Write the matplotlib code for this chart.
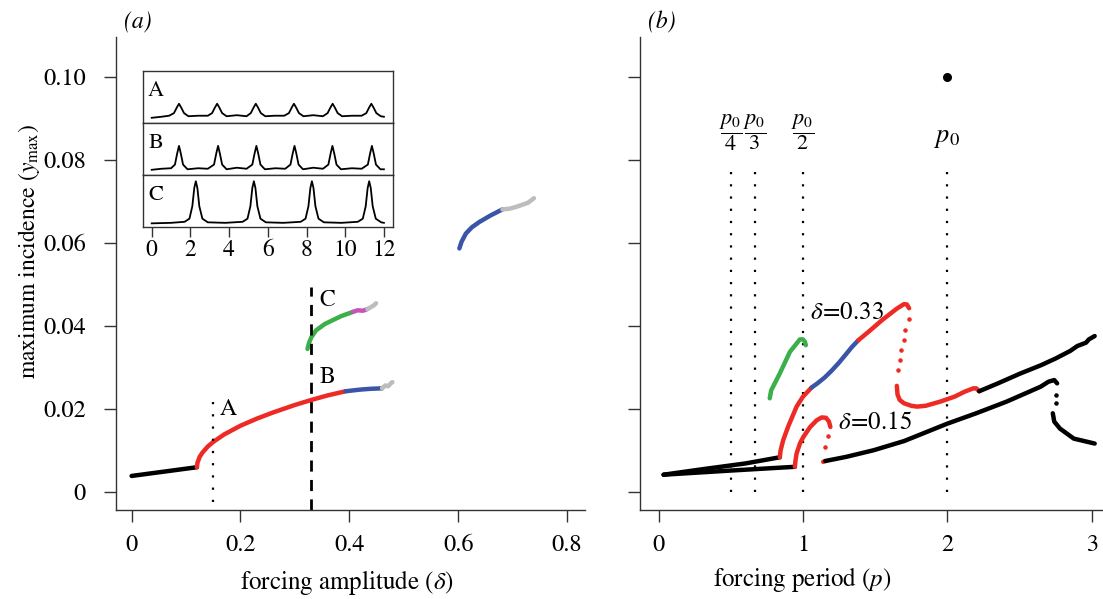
import matplotlib
matplotlib.use('Agg')
import matplotlib.pyplot as plt

plt.rcParams['font.family'] = ['STIXGeneral', 'DejaVu Serif']
plt.rcParams['mathtext.fontset'] = 'stix'

RED = '#ee2a24'
BLUE = '#3a55a8'
GREEN = '#3bb04a'
MAGENTA = '#c155b8'
GREY = '#bdbdbd'

# ---- panel (a): max incidence against forcing amplitude ----
a_black_x = [0.0, 0.04, 0.08, 0.12]
a_black_y = [0.0039, 0.0046, 0.0053, 0.0060]
a_red_x = [0.12, 0.121, 0.125, 0.13, 0.14, 0.15, 0.17, 0.20, 0.23, 0.26, 0.30, 0.33, 0.36, 0.393]
a_red_y = [0.0060, 0.0071, 0.0085, 0.0095, 0.0110, 0.0121, 0.0139, 0.0160, 0.0177, 0.0192,
           0.0210, 0.0222, 0.0233, 0.0243]
a_blue_x = [0.393, 0.42, 0.44, 0.46]
a_blue_y = [0.0243, 0.0247, 0.0249, 0.0250]
a_grey_x = [0.46, 0.466, 0.471, 0.476, 0.479]
a_grey_y = [0.0250, 0.0257, 0.0255, 0.0262, 0.0265]
a_green_x = [0.323, 0.326, 0.33, 0.339, 0.355, 0.369, 0.385, 0.406]
a_green_y = [0.0345, 0.0360, 0.0373, 0.0390, 0.0405, 0.0414, 0.0424, 0.0434]
a_mag_x = [0.406, 0.415, 0.425, 0.433]
a_mag_y = [0.0434, 0.0438, 0.0437, 0.0441]
a_grey2_x = [0.433, 0.44, 0.445, 0.449]
a_grey2_y = [0.0441, 0.0446, 0.0450, 0.0455]
a_blue2_x = [0.602, 0.606, 0.614, 0.625, 0.639, 0.66, 0.681]
a_blue2_y = [0.0587, 0.0603, 0.0623, 0.0638, 0.0651, 0.0667, 0.0681]
a_grey3_x = [0.681, 0.695, 0.706, 0.717, 0.728, 0.739]
a_grey3_y = [0.0681, 0.0683, 0.0687, 0.0692, 0.0697, 0.0708]

# ---- panel (b): max incidence against forcing period ----
b33_black_x = [0.035, 0.3, 0.6, 0.84]
b33_black_y = [0.0042, 0.0055, 0.0069, 0.0084]
b33_red1_x = [0.84, 0.845, 0.863, 0.90, 0.956, 1.0, 1.06]
b33_red1_y = [0.0084, 0.0100, 0.0125, 0.0160, 0.0206, 0.0230, 0.0252]
b33_blue_x = [1.06, 1.10, 1.15, 1.20, 1.25, 1.30, 1.34, 1.384]
b33_blue_y = [0.0252, 0.0262, 0.0276, 0.0293, 0.0312, 0.0333, 0.0350, 0.0366]
b33_red2_x = [1.384, 1.45, 1.55, 1.65, 1.70, 1.72, 1.735]
b33_red2_y = [0.0366, 0.0385, 0.0415, 0.0442, 0.0453, 0.0452, 0.0443]
b33_dots_x = [1.731, 1.708, 1.697, 1.681, 1.669, 1.658]
b33_dots_y = [0.0417, 0.0390, 0.0366, 0.0342, 0.0318, 0.0294]
b33_red3_x = [1.65, 1.655, 1.67, 1.70, 1.75, 1.79, 1.85, 1.95, 2.05, 2.12, 2.18, 2.20, 2.22]
b33_red3_y = [0.0256, 0.0235, 0.0222, 0.0214, 0.0208, 0.0206, 0.0208, 0.0218, 0.0230,
              0.0242, 0.0250, 0.0250, 0.0243]
b33_black2_x = [2.22, 2.35, 2.5, 2.65, 2.75, 2.85, 2.90, 2.93, 2.96, 2.98, 3.02]
b33_black2_y = [0.0243, 0.0262, 0.0285, 0.0306, 0.0322, 0.0340, 0.0352, 0.0356, 0.0360,
                0.0368, 0.0376]
b_green_x = [0.77, 0.78, 0.84, 0.91, 0.979, 1.0, 1.014, 1.02]
b_green_y = [0.0226, 0.0245, 0.0286, 0.0338, 0.0368, 0.0368, 0.0362, 0.0354]

b15_black_x = [0.035, 0.5, 0.944]
b15_black_y = [0.0042, 0.0052, 0.0061]
b15_red1_x = [0.944, 0.948, 0.956, 0.98, 1.003, 1.05, 1.095, 1.13, 1.16, 1.18, 1.19]
b15_red1_y = [0.0061, 0.0075, 0.0093, 0.0118, 0.0133, 0.0157, 0.0173, 0.0180, 0.0179,
              0.0170, 0.0157]
b15_dots_x = [1.176, 1.153]
b15_dots_y = [0.0135, 0.0109]
b15_red2_x = [1.14, 1.155]
b15_red2_y = [0.0073, 0.0075]
b15_black2_x = [1.155, 1.3, 1.49, 1.7, 2.0, 2.2, 2.41, 2.646, 2.70, 2.74, 2.76]
b15_black2_y = [0.0075, 0.0085, 0.0101, 0.0123, 0.0165, 0.0190, 0.0218, 0.0254, 0.0266,
                0.0270, 0.0262]
b15_dots2_x = [2.75, 2.75]
b15_dots2_y = [0.0234, 0.0214]
b15_black3_x = [2.73, 2.74, 2.78, 2.875, 3.02]
b15_black3_y = [0.0190, 0.0170, 0.0153, 0.0129, 0.0117]

p0_value = 2.0
p0_point_y = 0.1
frac_x = [0.5, 2.0 / 3.0, 1.0]
frac_labels = [r'$\dfrac{p_0}{4}$', r'$\dfrac{p_0}{3}$', r'$\dfrac{p_0}{2}$']

# ---- inset time series A, B, C ----
ins_A_t = [0.0, 0.5, 0.9, 1.15, 1.3, 1.41, 1.52, 1.67, 1.9, 2.4, 2.9, 3.12, 3.27, 3.38, 3.49,
           3.64, 3.87, 4.4, 4.9, 5.12, 5.27, 5.38, 5.49, 5.64, 5.87, 6.35, 6.85, 7.09, 7.24,
           7.35, 7.46, 7.61, 7.84, 8.35, 8.85, 9.09, 9.24, 9.35, 9.46, 9.61, 9.84, 10.35,
           10.85, 11.09, 11.24, 11.35, 11.46, 11.61, 11.84, 12.0]
ins_A_y = [0.10, 0.12, 0.14, 0.19, 0.30, 0.37, 0.30, 0.19, 0.13, 0.14, 0.14, 0.19, 0.30, 0.37,
           0.30, 0.19, 0.13, 0.15, 0.13, 0.19, 0.30, 0.37, 0.30, 0.19, 0.13, 0.14, 0.14, 0.19,
           0.30, 0.37, 0.30, 0.19, 0.13, 0.15, 0.13, 0.19, 0.30, 0.37, 0.30, 0.19, 0.13, 0.14,
           0.14, 0.19, 0.30, 0.37, 0.30, 0.19, 0.13, 0.12]
ins_B_t = [0.0, 0.5, 1.0, 1.2, 1.32, 1.41, 1.50, 1.62, 1.85, 2.4, 2.9, 3.22, 3.34, 3.43, 3.52,
           3.64, 3.87, 4.4, 4.9, 5.2, 5.32, 5.41, 5.50, 5.62, 5.85, 6.4, 6.9, 7.17, 7.29, 7.38,
           7.47, 7.59, 7.82, 8.35, 8.85, 9.13, 9.25, 9.34, 9.43, 9.55, 9.78, 10.35, 10.85,
           11.17, 11.29, 11.38, 11.47, 11.59, 11.82, 12.0]
ins_B_y = [0.10, 0.12, 0.13, 0.20, 0.42, 0.56, 0.42, 0.20, 0.11, 0.13, 0.12, 0.20, 0.42, 0.56,
           0.42, 0.20, 0.11, 0.14, 0.12, 0.20, 0.42, 0.56, 0.42, 0.20, 0.11, 0.13, 0.12, 0.20,
           0.42, 0.56, 0.42, 0.20, 0.11, 0.14, 0.12, 0.20, 0.42, 0.56, 0.42, 0.20, 0.11, 0.13,
           0.12, 0.20, 0.42, 0.56, 0.42, 0.20, 0.11, 0.11]
ins_C_t = [0.0, 1.0, 1.7, 1.95, 2.1, 2.2, 2.28, 2.36, 2.46, 2.62, 2.9, 3.8, 4.7, 4.95, 5.1, 5.2,
           5.28, 5.36, 5.46, 5.62, 5.9, 6.8, 7.7, 7.95, 8.1, 8.2, 8.28, 8.36, 8.46, 8.62, 8.9,
           9.8, 10.65, 10.91, 11.06, 11.16, 11.24, 11.32, 11.42, 11.58, 11.86, 12.0]
ins_C_y = [0.07, 0.08, 0.10, 0.16, 0.40, 0.75, 0.88, 0.75, 0.40, 0.16, 0.09, 0.08, 0.10, 0.16,
           0.40, 0.75, 0.88, 0.75, 0.40, 0.16, 0.09, 0.08, 0.10, 0.16, 0.40, 0.75, 0.88, 0.75,
           0.40, 0.16, 0.09, 0.08, 0.10, 0.16, 0.40, 0.75, 0.88, 0.75, 0.40, 0.16, 0.09, 0.08]

fig = plt.figure(figsize=(11.03, 5.99), dpi=100)
ax1 = fig.add_axes([0.105, 0.1486, 0.425, 0.7894])
ax2 = fig.add_axes([0.580, 0.1486, 0.419, 0.7894])

LW = 3.2
def seg(ax, x, y, c):
    ax.plot(x, y, color=c, lw=LW, solid_capstyle='round', solid_joinstyle='round')

# panel a
seg(ax1, a_black_x, a_black_y, 'black')
seg(ax1, a_red_x, a_red_y, RED)
seg(ax1, a_blue_x, a_blue_y, BLUE)
seg(ax1, a_grey_x, a_grey_y, GREY)
seg(ax1, a_green_x, a_green_y, GREEN)
seg(ax1, a_mag_x, a_mag_y, MAGENTA)
seg(ax1, a_grey2_x, a_grey2_y, GREY)
seg(ax1, a_blue2_x, a_blue2_y, BLUE)
seg(ax1, a_grey3_x, a_grey3_y, GREY)
ax1.plot([0.15, 0.15], [-0.0024, 0.0238], color='black', lw=1.6, linestyle=(0, (1, 4.5)))
ax1.plot([0.33, 0.33], [-0.0043, 0.0494], color='black', lw=2.0, linestyle=(0, (4, 3)))
ax1.text(0.178, 0.0200, 'A', fontsize=17, ha='center', va='center')
ax1.text(0.360, 0.0277, 'B', fontsize=17, ha='center', va='center')
ax1.text(0.360, 0.0462, 'C', fontsize=17, ha='center', va='center')

ax1.set_xlim(-0.029, 0.832)
ax1.set_ylim(-0.0043, 0.1096)
ax1.set_xticks([0, 0.2, 0.4, 0.6, 0.8])
ax1.set_xticklabels(['0', '0.2', '0.4', '0.6', '0.8'])
ax1.set_yticks([0, 0.02, 0.04, 0.06, 0.08, 0.10])
ax1.set_yticklabels(['0', '0.02', '0.04', '0.06', '0.08', '0.10'])

# panel b
for x in frac_x + [p0_value]:
    ax2.plot([x, x], [0.0, 0.078], color='black', lw=1.6, linestyle=(0, (1, 4.5)))
seg(ax2, b33_black_x, b33_black_y, 'black')
seg(ax2, b15_black_x, b15_black_y, 'black')
seg(ax2, b33_red1_x, b33_red1_y, RED)
seg(ax2, b33_blue_x, b33_blue_y, BLUE)
seg(ax2, b33_red2_x, b33_red2_y, RED)
ax2.scatter(b33_dots_x, b33_dots_y, s=5, color=RED, zorder=3)
seg(ax2, b33_red3_x, b33_red3_y, RED)
seg(ax2, b33_black2_x, b33_black2_y, 'black')
seg(ax2, b_green_x, b_green_y, GREEN)
seg(ax2, b15_red1_x, b15_red1_y, RED)
ax2.scatter(b15_dots_x, b15_dots_y, s=5, color=RED, zorder=3)
seg(ax2, b15_red2_x, b15_red2_y, RED)
seg(ax2, b15_black2_x, b15_black2_y, 'black')
ax2.scatter(b15_dots2_x, b15_dots2_y, s=5, color='black', zorder=3)
seg(ax2, b15_black3_x, b15_black3_y, 'black')
ax2.scatter([p0_value], [p0_point_y], s=30, color='black', zorder=3)
for x, lab in zip(frac_x, frac_labels):
    ax2.text(x, 0.0867, lab, fontsize=16, ha='center', va='center')
ax2.text(p0_value, 0.0853, r'$p_0$', fontsize=19, ha='center', va='center')
ax2.text(1.05, 0.0431, r'$\delta\!=\!0.33$', fontsize=18, ha='left', va='center')
ax2.text(1.245, 0.0166, r'$\delta\!=\!0.15$', fontsize=18, ha='left', va='center')

ax2.set_xlim(-0.13, 3.07)
ax2.set_ylim(-0.0043, 0.1096)
ax2.set_xticks([0, 1, 2, 3])
ax2.set_yticks([0, 0.02, 0.04, 0.06, 0.08, 0.10])
ax2.set_yticklabels([])

for ax in (ax1, ax2):
    for s in ('top', 'right'):
        ax.spines[s].set_visible(False)
    for s in ('left', 'bottom'):
        ax.spines[s].set_linewidth(1.0)
        ax.spines[s].set_color('#333333')
    ax.tick_params(axis='both', direction='out', length=8.5, width=1.0, color='#333333',
                   labelsize=17.5)
    ax.tick_params(axis='x', pad=9)
    ax.tick_params(axis='y', pad=13)

fig.text(0.125, 0.963, '(a)', fontsize=17, style='italic', ha='center', va='center')
fig.text(0.600, 0.963, '(b)', fontsize=17, style='italic', ha='center', va='center')
fig.text(0.314, 0.028, r'forcing amplitude ($\delta$)', fontsize=18, ha='center', va='center')
fig.text(0.727, 0.032, r'forcing period ($p$)', fontsize=18, ha='center', va='center')
fig.text(0.026, 0.58, r'maximum incidence ($y_{\mathrm{max}}$)', fontsize=17, rotation=90,
         ha='center', va='center')

# inset
in_left, in_w = 143 / 1103, 250 / 1103
in_top = 1 - 71 / 599
in_h = (227 - 71) / 599 / 3
series = [(ins_A_t, ins_A_y, 'A'), (ins_B_t, ins_B_y, 'B'), (ins_C_t, ins_C_y, 'C')]
for i, (t, y, lab) in enumerate(series):
    ax = fig.add_axes([in_left, in_top - (i + 1) * in_h, in_w, in_h])
    ax.plot(t, y, color='black', lw=1.3)
    ax.set_xlim(-0.45, 12.47)
    ax.set_ylim(0, 1)
    ax.set_yticks([])
    for s in ax.spines.values():
        s.set_linewidth(1.0)
        s.set_color('#333333')
    ax.text(0.2, 0.62, lab, fontsize=16, ha='center', va='center')
    if i < 2:
        ax.set_xticks([])
    else:
        ax.set_xticks([0, 2, 4, 6, 8, 10, 12])
        ax.tick_params(axis='x', direction='out', length=7, width=1.0, color='#333333',
                       labelsize=17, pad=2)

fig.savefig('out.png', dpi=100)
